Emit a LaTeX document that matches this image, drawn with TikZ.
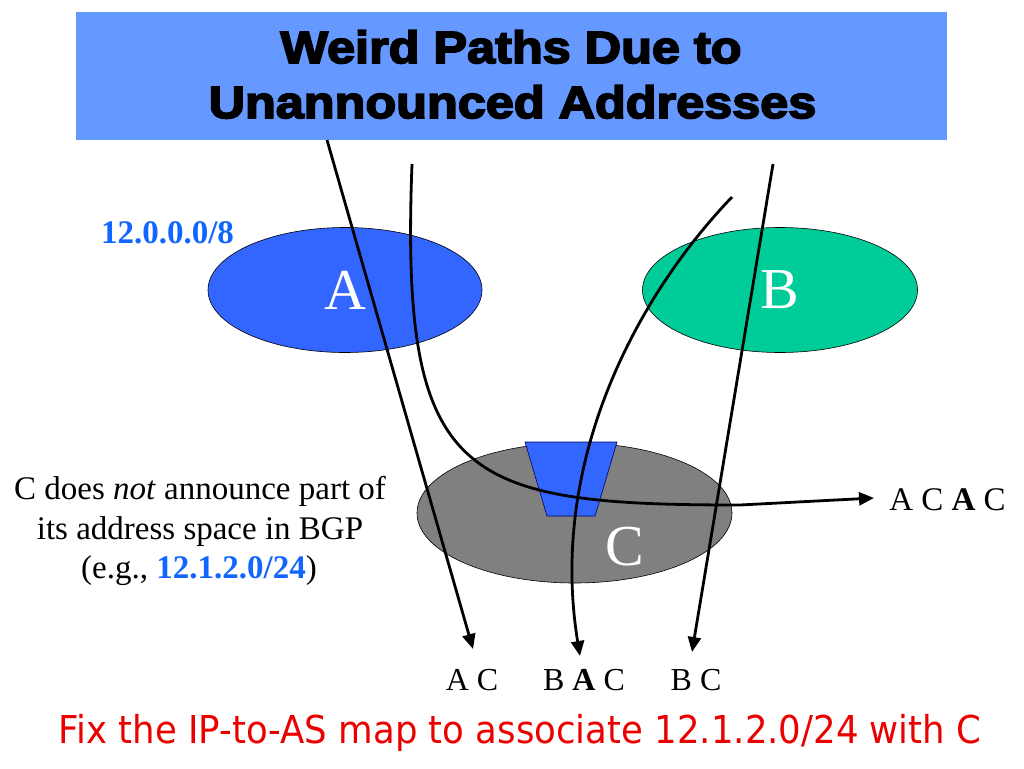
\documentclass[tikz,border=0pt]{standalone}
\usepackage{fontspec}
\setmainfont{Liberation Serif}
\newfontfamily\titlefont{Liberation Sans}[FakeStretch=1.12, BoldFeatures={FakeBold=4}]
\newfontfamily\redfont{DejaVu Sans}[FakeStretch=0.925]
\usetikzlibrary{shapes.geometric,arrows.meta}
\definecolor{titleblue}{RGB}{102,153,255}
\definecolor{ablue}{RGB}{51,102,255}
\definecolor{bgreen}{RGB}{0,204,153}
\definecolor{cgray}{RGB}{128,128,128}
\definecolor{netblue}{RGB}{17,102,255}
\definecolor{fixred}{RGB}{235,0,0}
\begin{document}
\begin{tikzpicture}[x=1pt,y=-1pt,
  route/.style={line width=2.8pt},
  tipped/.style={-{Triangle[length=15pt,width=13pt]}},
  as/.style={ellipse, draw=black, line width=0.6pt, inner sep=0pt, text=white, font=\fontsize{58}{58}\selectfont},
  lbl/.style={anchor=base, inner sep=0pt, font=\fontsize{32}{32}\selectfont},
  note/.style={anchor=base, inner sep=0pt, font=\fontsize{33}{33}\selectfont},
  ttl/.style={anchor=base, inner sep=0pt, font=\titlefont\bfseries\fontsize{45}{45}\selectfont}]
\useasboundingbox (0,0) rectangle (1024,768);
% title
\node[fill=titleblue, minimum width=871pt, minimum height=128pt, inner sep=0pt] (title) at (511.5,76) {};
\node[ttl] (t1) at (511,63) {Weird Paths Due to};
\node[ttl] (t2) at (512.5,118) {Unannounced Addresses};
% ASes
\node[as, fill=ablue, minimum width=274pt, minimum height=125pt] (A) at (345,290) {A};
\node[as, fill=bgreen, minimum width=275pt, minimum height=125pt] (B) at (780,290) {B};
\node[as, fill=cgray, minimum width=315pt, minimum height=140pt] (C) at (574.5,513) {};
\node[inner sep=0pt, text=white, font=\fontsize{58}{58}\selectfont] (Cl) at (625,547) {C};
% unannounced block
\coordinate (q1) at (525,442);
\coordinate (q2) at (617,442);
\coordinate (q3) at (595,516);
\coordinate (q4) at (547,516);
\draw[fill=ablue, draw=black!60!blue, line width=0.6pt] (q1) -- (q2) -- (q3) -- (q4) -- cycle;
% routes
\coordinate (s1) at (327,140);
\coordinate (e1) at (473,649);
\draw[route,tipped] (s1) -- (e1);
\coordinate (s2) at (412,164);
\coordinate (m2) at (740,505);
\coordinate (e2) at (874,498);
\draw[route,tipped] (s2) .. controls (400,480) and (460,505) .. (m2) -- (e2);
\coordinate (s3) at (732,197);
\coordinate (e3) at (580,656);
\draw[route,tipped] (s3) .. controls (638,295) and (548,460) .. (e3);
\coordinate (s4) at (773,164);
\coordinate (e4) at (692,652);
\draw[route,tipped] (s4) -- (e4);
% labels
\node[lbl] (l1) at (472,690) {A C};
\node[lbl] (l2) at (584,690) {B \textbf{A} C};
\node[lbl] (l3) at (696,690) {B C};
\node[note] (l4) at (947.5,510) {A C \textbf{A} C};
\node[note, font=\fontsize{33}{33}\selectfont\bfseries, text=netblue] (net) at (167.5,243) {12.0.0.0/8};
\node[note] (n1) at (200,499) {C does \textit{not} announce part of};
\node[note] (n2) at (200,539) {its address space in BGP};
\node[note] (n3) at (199,578) {(e.g., {\bfseries\color{netblue}12.1.2.0/24})};
\node[anchor=base, inner sep=0pt, text=fixred, font=\redfont\fontsize{38.4}{38.4}\selectfont] (fix) at (520,743) {Fix the IP-to-AS map to associate 12.1.2.0/24 with C};
\end{tikzpicture}
\end{document}
